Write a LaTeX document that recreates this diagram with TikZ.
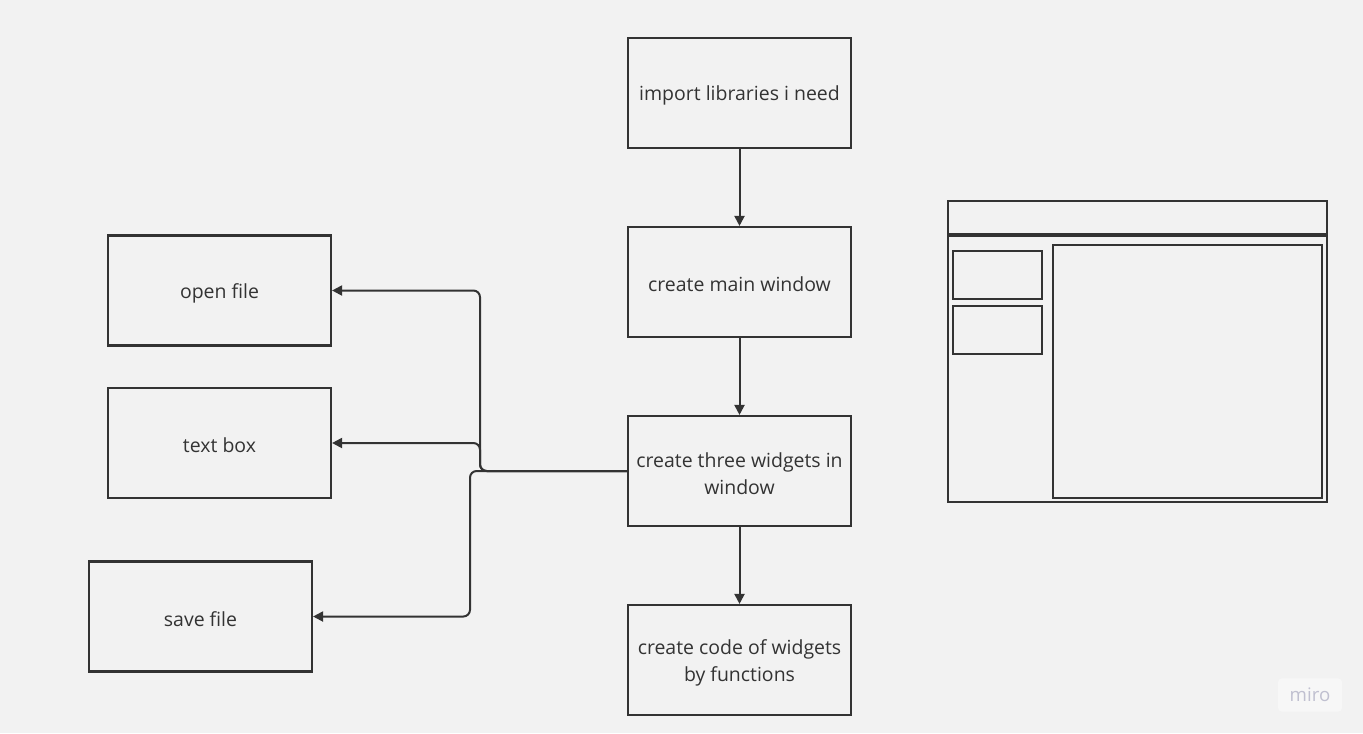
\documentclass[tikz,border=0pt]{standalone}
\usepackage{fontspec}
\setmainfont{Open Sans}
\usetikzlibrary{arrows.meta}
\definecolor{bg}{HTML}{F2F2F2}
\definecolor{ink}{HTML}{333333}
\definecolor{mirotxt}{HTML}{C0C0D0}
\begin{document}
\begin{tikzpicture}[x=0.75pt,y=-0.75pt,
  flowbox/.style={draw=ink, line width=1.6pt, fill=bg, minimum width=167.25pt, minimum height=82.5pt, inner sep=0pt},
  boxtext/.style={align=center, font=\fontsize{14.6}{20}\selectfont, text=ink, yshift=-2pt, inner sep=0pt},
  arr/.style={draw=ink, line width=1.5pt, -{Triangle[length=7.5pt,width=7.5pt]}},
  conn/.style={arr, rounded corners=5pt},
  mock/.style={draw=ink, line width=1.6pt}]
\useasboundingbox[fill=bg] (0,0) rectangle (1363,733);
\node[flowbox, label={[boxtext]center:import libraries i need}] (imp) at (739.5,93) {};
\node[flowbox, label={[boxtext]center:create main window}] (mw) at (739.5,282) {};
\node[flowbox, label={[boxtext]center:create three widgets in\\window}] (tw) at (739.5,471) {};
\node[flowbox, label={[boxtext]center:create code of widgets\\by functions}] (cw) at (739.5,660) {};
\node[flowbox, label={[boxtext]center:open file}] (of) at (219.5,290.5) {};
\node[flowbox, label={[boxtext]center:text box}] (tb) at (219.5,443) {};
\node[flowbox, label={[boxtext]center:save file}] (sf) at (200.5,616.5) {};
\draw[arr] (imp) -- (mw);
\draw[arr] (mw) -- (tw);
\draw[arr] (tw) -- (cw);
\coordinate (j1) at (480,471);
\coordinate (j2) at (470,471);
\draw[conn] (tw.west) -- (j1) |- (of.east);
\draw[conn] (tw.west) -- (j1) |- (tb.east);
\draw[conn] (tw.west) -- (j2) |- (sf.east);
% window mockup
\draw[mock] (948,201) rectangle (1327,234);
\draw[mock] (948,236) rectangle (1327,502);
\draw[mock] (953,251) rectangle (1042,299);
\draw[mock] (953,306) rectangle (1042,354);
\draw[mock] (1053,245) rectangle (1322,498);
% logo
\node[fill=white!35!bg, rounded corners=3pt, minimum width=48pt, minimum height=25pt, inner sep=0pt] (logo) at (1310,695) {};
\node[text=mirotxt, font=\fontsize{14}{16}\selectfont] (logotxt) at (logo.center) {miro};
\end{tikzpicture}
\end{document}
